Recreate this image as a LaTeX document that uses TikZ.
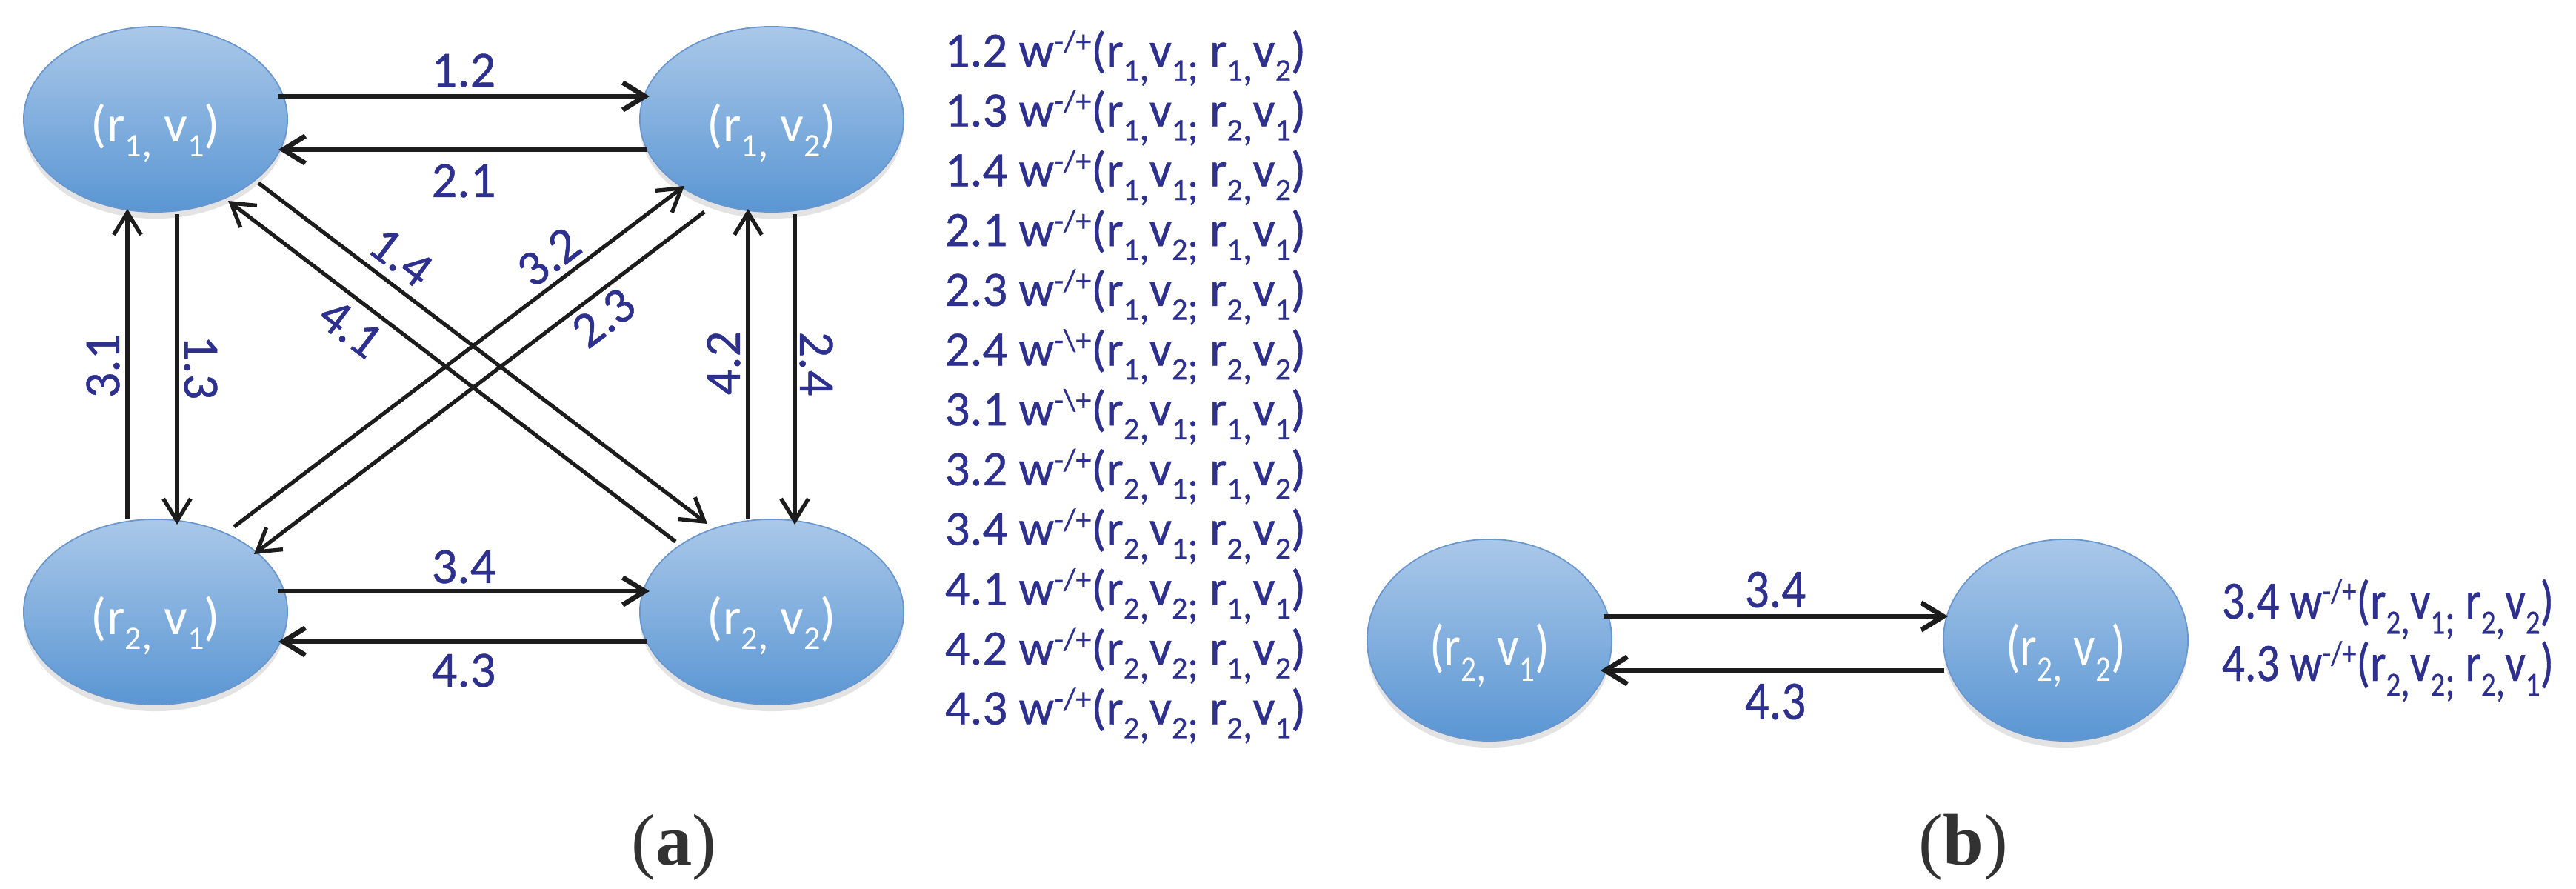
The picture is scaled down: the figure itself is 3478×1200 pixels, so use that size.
\documentclass[tikz,border=0pt]{standalone}
\usepackage{fontspec}
\setmainfont{Carlito}
\newfontfamily\lblfont[FakeBold=0.6]{Carlito}
\newfontfamily\capfont{Liberation Serif}
\usepackage{graphicx}
\usetikzlibrary{arrows.meta,calc,shadows,shapes.geometric}
\definecolor{lbl}{RGB}{46,48,142}
\definecolor{nodetop}{RGB}{170,200,233}
\definecolor{nodebot}{RGB}{90,150,211}
\definecolor{nodeedge}{RGB}{105,150,205}
\definecolor{arr}{RGB}{28,28,28}
\definecolor{capc}{RGB}{50,50,50}
\newcommand\dn[1]{\raisebox{-0.28em}{\scalebox{0.63}{#1}}}
\newcommand\dc[1]{\raisebox{-0.28em}{\scalebox{0.82}{#1}}}
\newcommand\up[1]{\raisebox{0.3em}{\scalebox{0.63}{#1}}}
\newcommand\wf{w\up{-/+}}
\newcommand\wb{w\up{-\textbackslash+}}
\newcommand\pq[4]{(r\dn{#1}\dc{,}v\dn{#2}\dc{;} r\dn{#3}\dc{,}v\dn{#4})}
\newcommand\nd[2]{\raisebox{-8.8pt}[0pt][0pt]{(r\dn{#1}\dc{,} v\dn{#2})}}
\tikzset{
  state/.style={ellipse, minimum width=3.56cm, minimum height=2.5cm, inner sep=0pt,
    top color=nodetop, bottom color=nodebot, draw=nodeedge, line width=0.5pt,
    text=white, font=\fontsize{20}{24}\selectfont,
    drop shadow={opacity=0.22, shadow xshift=0pt, shadow yshift=-0.09cm}},
  bstate/.style={state, minimum width=3.3cm, minimum height=2.72cm},
  conn/.style={draw=arr, line width=1.5pt, -{Straight Barb[length=8.5pt,width=10.5pt]}},
  hconn/.style={conn, line width=1.9pt},
  lab/.style={text=lbl, font=\lblfont\fontsize{19.5}{23}\selectfont, inner sep=0pt},
  lst/.style={text=lbl, font=\lblfont\fontsize{19}{23}\selectfont, inner sep=0pt, anchor=base west},
  captxt/.style={text=capc, font=\capfont\fontsize{28}{32}\selectfont, inner sep=0pt}
}
\begin{document}
\begin{tikzpicture}[x=0.01cm, y=-0.01cm]
\fill[white] (0,0) rectangle (3478,1200);
\useasboundingbox (0,0) rectangle (3478,1200);

% ---------- (a) nodes
\node[state] (A) at (210,161) {\nd11};
\node[state] (B) at (1042,161) {\nd12};
\node[state] (C) at (210,826) {\nd21};
\node[state] (D) at (1042,826) {\nd22};

% horizontal
\draw[hconn] ($(A.center)+(165,-31)$) -- ($(B.center)+(-165,-31)$);
\draw[hconn] ($(B.center)+(-168,41)$) -- ($(A.center)+(166,41)$);
\draw[hconn] ($(C.center)+(165,-28)$) -- ($(D.center)+(-165,-28)$);
\draw[hconn] ($(D.center)+(-168,40)$) -- ($(C.center)+(166,40)$);
% vertical
\draw[conn] ($(C.center)+(-38,-125)$) -- ($(A.center)+(-38,121)$);
\draw[conn] ($(A.center)+(29,128)$) -- ($(C.center)+(29,-118)$);
\draw[conn] ($(D.center)+(-32,-125)$) -- ($(B.center)+(-32,121)$);
\draw[conn] ($(B.center)+(31,128)$) -- ($(D.center)+(31,-118)$);
% diagonals
\draw[conn] ($(A.center)+(139,86)$) -- ($(D.center)+(-87,-119)$);
\draw[conn] ($(D.center)+(-130,-95)$) -- ($(A.center)+(98,110)$);
\draw[conn] ($(C.center)+(106,-115)$) -- ($(B.center)+(-118,90)$);
\draw[conn] ($(B.center)+(-91,125)$) -- ($(C.center)+(133,-78)$);

% edge labels
\node[lab] (l12) at (626,95) {1.2};
\node[lab] (l21) at (626,244) {2.1};
\node[lab] (l34) at (626,765) {3.4};
\node[lab] (l43) at (626,905) {4.3};
\node[lab, rotate=90] (l31) at (139,494) {3.1};
\node[lab, rotate=-90] (l13) at (271,496) {1.3};
\node[lab, rotate=90] (l42) at (977,490) {4.2};
\node[lab, rotate=-90] (l24) at (1102,491) {2.4};
\node[lab, rotate=-37] (l14) at (541,347) {1.4};
\node[lab, rotate=-37] (l41) at (473,443) {4.1};
\node[lab, rotate=37] (l32) at (741,347) {3.2};
\node[lab, rotate=37] (l23) at (815,429) {2.3};

% list (a)
\node[lst] (t1) at (1275,90) {1.2 \wf\pq1112};
\node[lst] (t2) at (1275,170.7) {1.3 \wf\pq1121};
\node[lst] (t3) at (1275,251.4) {1.4 \wf\pq1122};
\node[lst] (t4) at (1275,332.1) {2.1 \wf\pq1211};
\node[lst] (t5) at (1275,412.8) {2.3 \wf\pq1221};
\node[lst] (t6) at (1275,493.5) {2.4 \wb\pq1222};
\node[lst] (t7) at (1275,574.2) {3.1 \wb\pq2111};
\node[lst] (t8) at (1275,654.9) {3.2 \wf\pq2112};
\node[lst] (t9) at (1275,735.6) {3.4 \wf\pq2122};
\node[lst] (t10) at (1275,816.3) {4.1 \wf\pq2211};
\node[lst] (t11) at (1275,897) {4.2 \wf\pq2212};
\node[lst] (t12) at (1275,977.7) {4.3 \wf\pq2221};

% ---------- (b)
\node[bstate] (E) at (2011,864) {\scalebox{0.93}[1.1]{\nd21}};
\node[bstate] (F) at (2789,864) {\scalebox{0.93}[1.1]{\nd22}};
\draw[hconn] ($(E.center)+(154,-32)$) -- ($(F.center)+(-159,-32)$);
\draw[hconn] ($(F.center)+(-164,41)$) -- ($(E.center)+(150,41)$);
\node[lab] (m34) at (2397,796) {\scalebox{0.95}[1.08]{3.4}};
\node[lab] (m43) at (2397,947) {\scalebox{0.95}[1.08]{4.3}};
\node[lst] (u1) at (2999,835) {\scalebox{0.92}[1.09]{3.4 \wf\pq2122}};
\node[lst] (u2) at (2999,919) {\scalebox{0.92}[1.09]{4.3 \wf\pq2221}};

% captions
\node[captxt] (ca) at (910,1144) {(\textbf{a})};
\node[captxt] (cb) at (2651,1144) {(\textbf{b})};
\end{tikzpicture}
\end{document}
